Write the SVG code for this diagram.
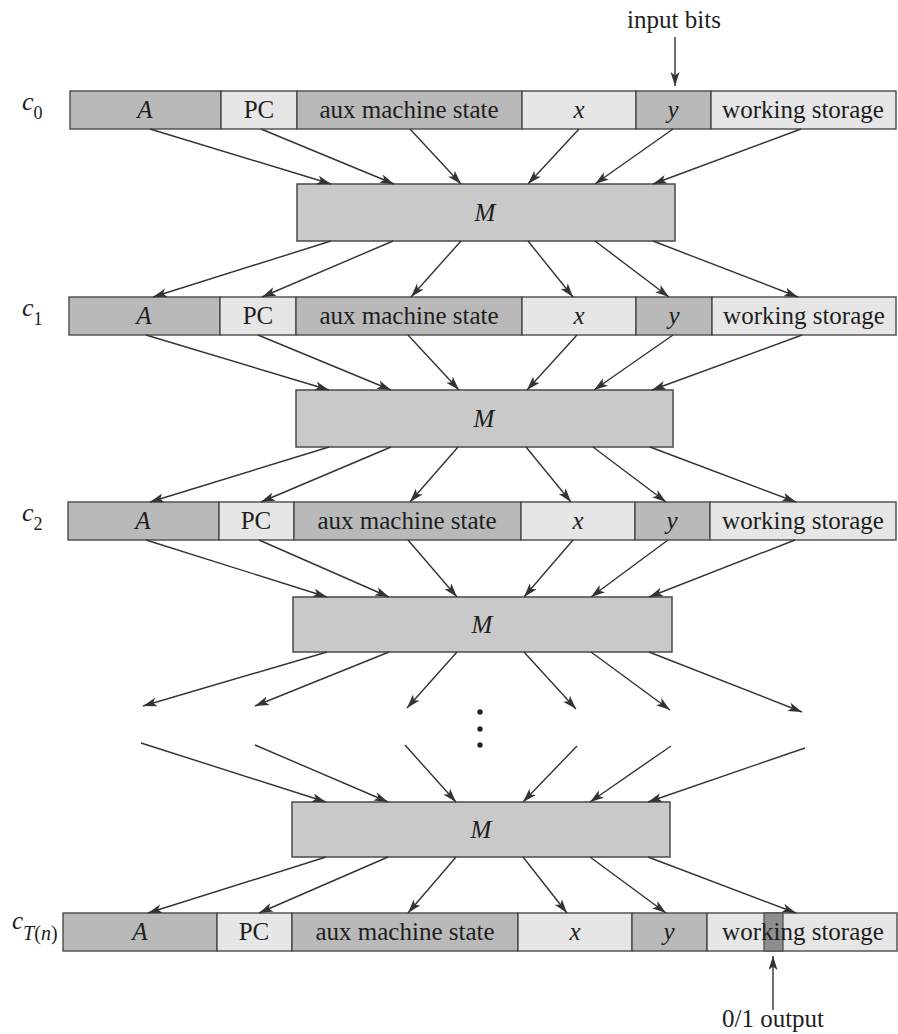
<svg xmlns="http://www.w3.org/2000/svg" width="898" height="1034" viewBox="0 0 898 1034">
<style>
.bg{fill:#ffffff}
.dk{fill:#b9b9b9;stroke:#4a4a4a;stroke-width:1.4}
.lt{fill:#e6e6e6;stroke:#4a4a4a;stroke-width:1.4}
.dd{fill:#8e8e8e;stroke:#4a4a4a;stroke-width:1.2}
.mb{fill:#c9c9c9;stroke:#4a4a4a;stroke-width:1.5}
.t{font-family:"Liberation Serif","Times New Roman",serif;font-size:25px;fill:#1e1e1e;text-anchor:middle}
.i{font-style:italic}
.lab{font-family:"Liberation Serif","Times New Roman",serif;fill:#1e1e1e;font-style:italic}
.sub{font-style:normal}
.ar{stroke:#333;stroke-width:1.4;fill:none;marker-end:url(#ah)}
</style>
<defs>
<marker id="ah" markerUnits="userSpaceOnUse" markerWidth="16" markerHeight="10" refX="14" refY="4.5" orient="auto">
<path d="M0,0 L14,4.5 L0,9 L3.5,4.5 z" fill="#333"/>
</marker>
</defs>
<rect class="bg" x="0" y="0" width="898" height="1034"/>

<g id="row-c0">
<rect class="dk" x="70" y="91" width="151" height="38"/>
<rect class="lt" x="221" y="91" width="76" height="38"/>
<rect class="dk" x="297" y="91" width="225" height="38"/>
<rect class="lt" x="522" y="91" width="114" height="38"/>
<rect class="dk" x="636" y="91" width="75" height="38"/>
<rect class="lt" x="711" y="91" width="185" height="38"/>
<text class="t i" x="145" y="118">A</text>
<text class="t" x="259" y="118">PC</text>
<text class="t" x="409" y="118">aux machine state</text>
<text class="t i" x="579" y="118">x</text>
<text class="t i" x="673" y="118">y</text>
<text class="t" x="803" y="118">working storage</text>
<text class="lab" x="22" y="110" font-size="26">c<tspan class="sub" font-size="18" dy="9">0</tspan></text>
</g>

<g id="row-c1">
<rect class="dk" x="69" y="297" width="151" height="38"/>
<rect class="lt" x="220" y="297" width="76" height="38"/>
<rect class="dk" x="296" y="297" width="226" height="38"/>
<rect class="lt" x="522" y="297" width="114" height="38"/>
<rect class="dk" x="636" y="297" width="76" height="38"/>
<rect class="lt" x="712" y="297" width="184" height="38"/>
<text class="t i" x="144" y="324">A</text>
<text class="t" x="258" y="324">PC</text>
<text class="t" x="409" y="324">aux machine state</text>
<text class="t i" x="579" y="324">x</text>
<text class="t i" x="674" y="324">y</text>
<text class="t" x="804" y="324">working storage</text>
<text class="lab" x="22" y="316" font-size="26">c<tspan class="sub" font-size="18" dy="9">1</tspan></text>
</g>

<g id="row-c2">
<rect class="dk" x="68" y="502" width="151" height="38"/>
<rect class="lt" x="219" y="502" width="75" height="38"/>
<rect class="dk" x="294" y="502" width="227" height="38"/>
<rect class="lt" x="521" y="502" width="114" height="38"/>
<rect class="dk" x="635" y="502" width="75" height="38"/>
<rect class="lt" x="710" y="502" width="186" height="38"/>
<text class="t i" x="143" y="529">A</text>
<text class="t" x="256" y="529">PC</text>
<text class="t" x="407" y="529">aux machine state</text>
<text class="t i" x="578" y="529">x</text>
<text class="t i" x="672" y="529">y</text>
<text class="t" x="803" y="529">working storage</text>
<text class="lab" x="22" y="521" font-size="26">c<tspan class="sub" font-size="18" dy="9">2</tspan></text>
</g>

<g id="row-cT">
<rect class="dk" x="63" y="913" width="154" height="38"/>
<rect class="lt" x="217" y="913" width="75" height="38"/>
<rect class="dk" x="292" y="913" width="226" height="38"/>
<rect class="lt" x="518" y="913" width="114" height="38"/>
<rect class="dk" x="632" y="913" width="75" height="38"/>
<rect class="lt" x="707" y="913" width="190" height="38"/>
<rect class="dd" x="764" y="913" width="19" height="38"/>
<text class="t i" x="140" y="940">A</text>
<text class="t" x="254" y="940">PC</text>
<text class="t" x="405" y="940">aux machine state</text>
<text class="t i" x="575" y="940">x</text>
<text class="t i" x="669" y="940">y</text>
<text class="t" x="803" y="940">working storage</text>
<text class="lab" x="12" y="929" font-size="25">c<tspan font-size="20" dy="11">T</tspan><tspan class="sub" font-size="20">(</tspan><tspan font-size="20">n</tspan><tspan class="sub" font-size="20">)</tspan></text>
</g>

<g id="M1">
<rect class="mb" x="297" y="184" width="378" height="57"/>
<text class="t i" x="485" y="221">M</text>
</g>
<g id="M2">
<rect class="mb" x="296" y="390" width="377" height="57"/>
<text class="t i" x="484" y="427">M</text>
</g>
<g id="M3">
<rect class="mb" x="293" y="597" width="379" height="55"/>
<text class="t i" x="482" y="633">M</text>
</g>
<g id="M4">
<rect class="mb" x="292" y="802" width="378" height="55"/>
<text class="t i" x="481" y="838">M</text>
</g>

<g id="ellipsis">
<circle cx="480" cy="712" r="2.7" fill="#222"/>
<circle cx="480" cy="729" r="2.7" fill="#222"/>
<circle cx="480" cy="745" r="2.7" fill="#222"/>
</g>

<g id="input-label">
<text class="t" x="674" y="28">input bits</text>
</g>
<g id="output-label">
<text class="t" x="773" y="1027">0/1 output</text>
</g>

<g id="connectors">
<line class="ar" x1="675" y1="37" x2="675" y2="86"/>
<line class="ar" x1="773" y1="1010" x2="773" y2="956"/>

<line class="ar" x1="150" y1="129" x2="331" y2="184"/>
<line class="ar" x1="261" y1="129" x2="394" y2="184"/>
<line class="ar" x1="410" y1="129" x2="461" y2="184"/>
<line class="ar" x1="579" y1="129" x2="528" y2="184"/>
<line class="ar" x1="673" y1="129" x2="595" y2="184"/>
<line class="ar" x1="801" y1="129" x2="653" y2="184"/>

<line class="ar" x1="331" y1="241" x2="153" y2="297"/>
<line class="ar" x1="393" y1="241" x2="262" y2="297"/>
<line class="ar" x1="461" y1="241" x2="411" y2="297"/>
<line class="ar" x1="528" y1="241" x2="573" y2="297"/>
<line class="ar" x1="595" y1="241" x2="669" y2="297"/>
<line class="ar" x1="653" y1="241" x2="798" y2="297"/>

<line class="ar" x1="146" y1="335" x2="329" y2="390"/>
<line class="ar" x1="258" y1="335" x2="391" y2="390"/>
<line class="ar" x1="408" y1="335" x2="459" y2="390"/>
<line class="ar" x1="577" y1="335" x2="527" y2="390"/>
<line class="ar" x1="673" y1="335" x2="594" y2="390"/>
<line class="ar" x1="802" y1="335" x2="652" y2="390"/>

<line class="ar" x1="329" y1="447" x2="150" y2="502"/>
<line class="ar" x1="391" y1="447" x2="261" y2="502"/>
<line class="ar" x1="458" y1="447" x2="410" y2="502"/>
<line class="ar" x1="526" y1="447" x2="571" y2="502"/>
<line class="ar" x1="593" y1="447" x2="666" y2="502"/>
<line class="ar" x1="650" y1="447" x2="796" y2="502"/>

<line class="ar" x1="146" y1="540" x2="327" y2="597"/>
<line class="ar" x1="259" y1="540" x2="389" y2="597"/>
<line class="ar" x1="408" y1="540" x2="457" y2="597"/>
<line class="ar" x1="573" y1="540" x2="524" y2="597"/>
<line class="ar" x1="668" y1="540" x2="591" y2="597"/>
<line class="ar" x1="795" y1="540" x2="649" y2="597"/>

<line class="ar" x1="327" y1="652" x2="143" y2="706"/>
<line class="ar" x1="389" y1="652" x2="255" y2="706"/>
<line class="ar" x1="457" y1="652" x2="407" y2="708"/>
<line class="ar" x1="524" y1="652" x2="576" y2="709"/>
<line class="ar" x1="591" y1="652" x2="670" y2="710"/>
<line class="ar" x1="649" y1="652" x2="802" y2="712"/>

<line class="ar" x1="141" y1="743" x2="326" y2="802"/>
<line class="ar" x1="255" y1="745" x2="388" y2="802"/>
<line class="ar" x1="405" y1="745" x2="456" y2="802"/>
<line class="ar" x1="577" y1="746" x2="523" y2="802"/>
<line class="ar" x1="671" y1="746" x2="590" y2="802"/>
<line class="ar" x1="805" y1="748" x2="648" y2="802"/>

<line class="ar" x1="326" y1="857" x2="148" y2="913"/>
<line class="ar" x1="388" y1="857" x2="259" y2="913"/>
<line class="ar" x1="456" y1="857" x2="408" y2="913"/>
<line class="ar" x1="523" y1="857" x2="567" y2="913"/>
<line class="ar" x1="590" y1="857" x2="666" y2="913"/>
<line class="ar" x1="648" y1="857" x2="796" y2="913"/>
</g>
</svg>
